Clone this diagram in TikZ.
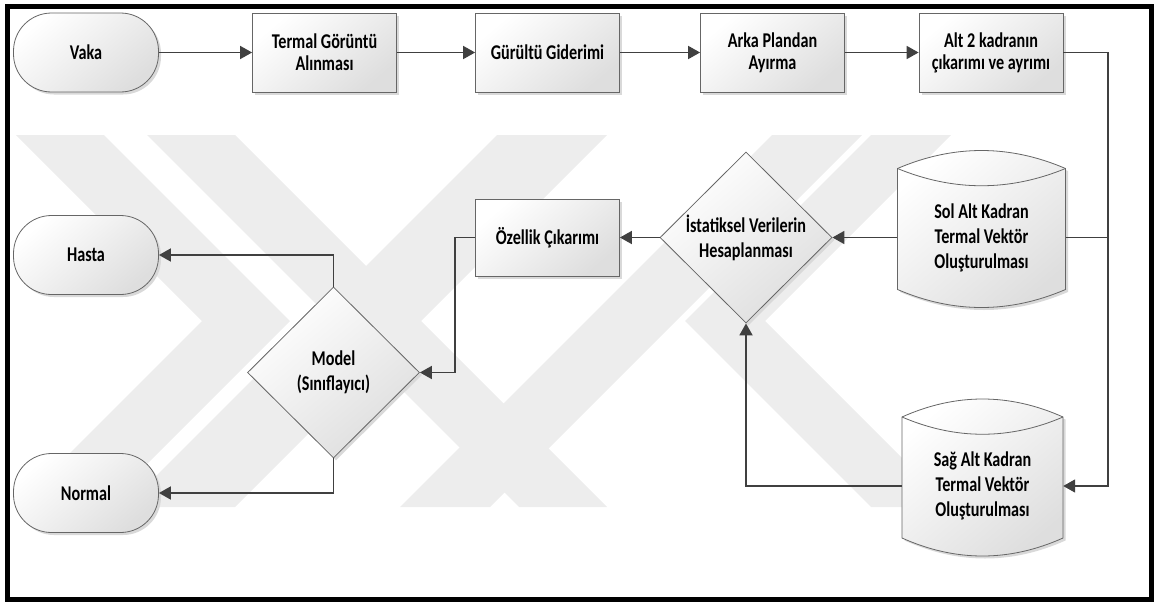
\documentclass[tikz,border=0pt]{standalone}
\usepackage{fontspec}
\setmainfont{Carlito}[FakeStretch=0.77]
\usetikzlibrary{arrows.meta,shapes.geometric,shadows}

\tikzset{
  shapefill/.style={draw=black!60, line width=0.8pt, top color=white, bottom color=black!13, shading angle=40},
  shadowed/.style={drop shadow={shadow xshift=2.5pt, shadow yshift=-2.5pt, fill=black!15, opacity=1}},
  txt/.style={font=\bfseries\fontsize{21}{22}\selectfont, align=center},
  process/.style={rectangle, shapefill, shadowed, txt, inner sep=0pt, minimum width=144pt, minimum height=79pt},
  terminal/.style={process, rounded corners=38pt, minimum width=145pt},
  decision/.style={diamond, shapefill, shadowed, txt, inner sep=0pt, minimum width=172pt, minimum height=171pt, font=\bfseries\fontsize{21}{25}\selectfont},
  datatext/.style={rectangle, inner sep=0pt, align=center, minimum height=104pt, font=\bfseries\fontsize{21}{25}\selectfont},
  flow/.style={draw=black!75, line width=1.8pt, -{Triangle[length=12pt,width=13pt]}},
  link/.style={draw=black!75, line width=1.8pt},
  wmark/.style={fill=black!7},
  pics/datastore/.style={code={
    \draw[shapefill, shadowed] (-#1,-69) .. controls (-#1/3,-93) and (#1/3,-93) .. (#1,-69)
      -- (#1,52) .. controls (#1/3,76) and (-#1/3,76) .. (-#1,52) -- cycle;
    \draw[draw=black!60, line width=0.8pt] (-#1,-69) .. controls (-#1/3,-46) and (#1/3,-46) .. (#1,-69);
  }}
}

\begin{document}
\begin{tikzpicture}[x=1pt, y=-1pt]
\useasboundingbox (0,0) rectangle (1154,605);

\begin{scope}
\clip (0,135) rectangle (1154,507);
\fill[wmark] (16,135) -- (104,135) -- (290,321) -- (104,507) -- (16,507) -- (202,321) -- cycle;
\fill[wmark] (147,135) -- (235,135) -- (607,507) -- (519,507) -- cycle;
\fill[wmark] (125,507) -- (235,507) -- (607,135) -- (497,135) -- cycle;
\fill[wmark] (400,507) -- (490,507) -- (862,135) -- (772,135) -- cycle;
\fill[wmark] (871,135) -- (951,135) -- (765,321) -- (951,507) -- (871,507) -- (685,321) -- cycle;
\end{scope}

\node[terminal] (vaka) at (86,52.5) {Vaka};
\node[process] (termal) at (324.5,52.5) {Termal Görüntü\\Alınması};
\node[process] (gurultu) at (547.5,52.5) {Gürültü Giderimi};
\node[process] (arka) at (772.5,52.5) {Arka Plandan\\Ayırma};
\node[process] (kadran) at (991,52.5) {Alt 2 kadranın\\çıkarımı ve ayrımı};

\pic at (981.5,237.5) {datastore=84};
\node[datatext, minimum width=168pt] (sol) at (981.5,237.5) {Sol Alt Kadran\\Termal Vektör\\Oluşturulması};
\pic at (982.5,486) {datastore=80.5};
\node[datatext, minimum width=161pt] (sag) at (982.5,486) {Sağ Alt Kadran\\Termal Vektör\\Oluşturulması};

\node[decision] (ista) at (746,237.5) {İstatiksel Verilerin\\Hesaplanması};
\node[process, minimum height=77pt] (ozellik) at (547.5,237.5) {Özellik Çıkarımı};
\node[decision] (model) at (333.5,372.5) {Model\\(Sınıflayıcı)};
\node[terminal] (hasta) at (86,255) {Hasta};
\node[terminal] (normal) at (86,493) {Normal};

\coordinate (down) at (1108,52.5);
\coordinate (jog) at (455,237.5);

\draw[flow] (vaka.east) -- (termal.west);
\draw[flow] (termal.east) -- (gurultu.west);
\draw[flow] (gurultu.east) -- (arka.west);
\draw[flow] (arka.east) -- (kadran.west);
\draw[flow] (kadran.east) -- (down) |- (sag.east);
\draw[link] (sol.east) -- (sol.east -| down);
\draw[flow] (sol.west) -- (ista.east);
\draw[flow] (ista.west) -- (ozellik.east);
\draw[flow] (sag.west) -| (ista.south);
\draw[flow] (ozellik.west) -- (jog) |- (model.east);
\draw[flow] (model.north) |- (hasta.east);
\draw[flow] (model.south) |- (normal.east);

\draw[line width=5pt] (7,6.5) rectangle (1151,599.5);
\end{tikzpicture}
\end{document}
